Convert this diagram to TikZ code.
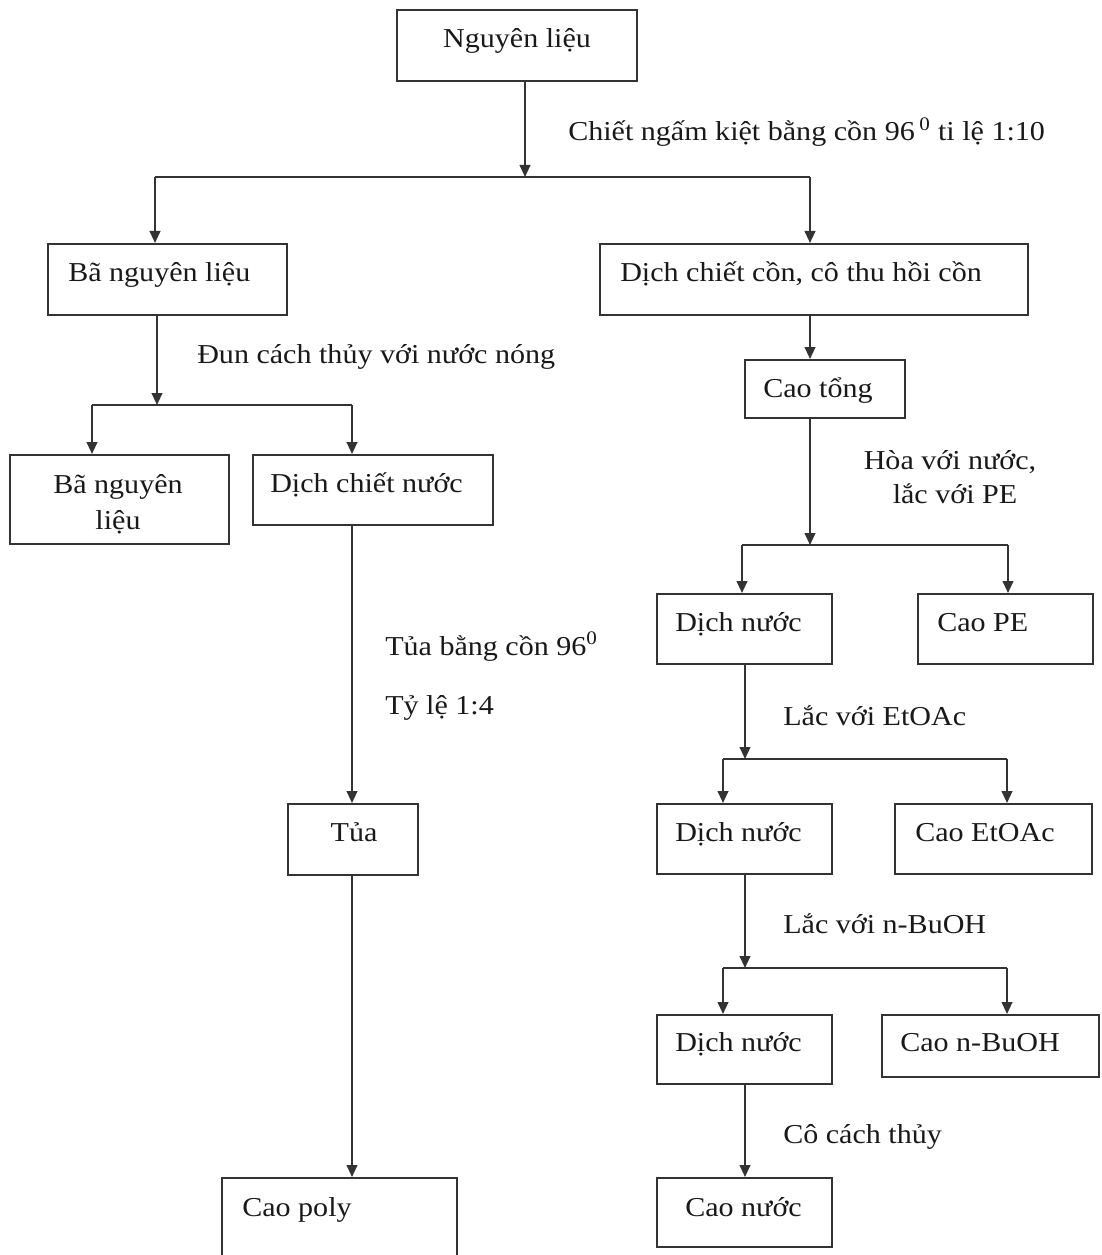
\documentclass[tikz,border=0pt]{standalone}
\usepackage{fontspec}
\setmainfont{Liberation Serif}[FakeStretch=1.1]
\usetikzlibrary{arrows.meta,fit}
\begin{document}
\begin{tikzpicture}[x=0.75pt,y=-0.75pt,
  box/.style={draw=black!80,line width=1.5pt,inner sep=0pt,fit={#1}},
  txt/.style={inner sep=0pt,anchor=base west,font=\fontsize{20.5pt}{27pt}\selectfont,text=black!90},
  ctxt/.style={inner sep=0pt,anchor=base,font=\fontsize{20.5pt}{27pt}\selectfont,text=black!90},
  ln/.style={draw=black!80,line width=1.5pt},
  arr/.style={ln,-{Triangle[length=9pt,width=8pt]}}]
\clip (0,0) rectangle (1101,1255);
\fill[white] (0,0) rectangle (1101,1255);
% boxes
\node[box={(397,10)(637,81)}] (n1) {};
\node[box={(48,244)(287,315)}] (b1) {};
\node[box={(600,244)(1028,315)}] (d1) {};
\node[box={(745,360)(905,418)}] (ct) {};
\node[box={(10,455)(229,544)}] (b2) {};
\node[box={(253,455)(493,525)}] (dn) {};
\node[box={(657,594)(832,664)}] (w1) {};
\node[box={(918,594)(1093,664)}] (pe) {};
\node[box={(657,804)(832,874)}] (w2) {};
\node[box={(895,804)(1092,874)}] (ea) {};
\node[box={(657,1015)(832,1084)}] (w3) {};
\node[box={(882,1015)(1099,1077)}] (bu) {};
\node[box={(288,804)(418,875)}] (tua) {};
\node[box={(222,1178)(457,1270)}] (poly) {};
\node[box={(657,1178)(832,1247)}] (cn) {};
% texts
\node[ctxt] (tn1) at (517,48) {Nguyên liệu};
\node[txt] (l1) at (568,141) {Chiết ngấm kiệt bằng cồn 96\,\textsuperscript{0} ti lệ 1:10};
\node[txt] (tb1) at (68,281) {Bã nguyên liệu};
\node[txt] (td1) at (620,281) {Dịch chiết cồn, cô thu hồi cồn};
\node[txt] (l2) at (197,363) {Đun cách thủy với nước nóng};
\node[txt] (tct) at (763,397) {Cao tổng};
\node[ctxt] (l3a) at (950,469) {Hòa với nước,};
\node[ctxt] (l3b) at (955,503) {lắc với PE};
\node[ctxt] (tb2a) at (118,493) {Bã nguyên};
\node[ctxt] (tb2b) at (118,529) {liệu};
\node[txt] (tdn) at (270,492) {Dịch chiết nước};
\node[txt] (l4a) at (385,655) {Tủa bằng cồn 96\textsuperscript{0}};
\node[txt] (l4b) at (385,714) {Tỷ lệ 1:4};
\node[txt] (tw1) at (675,631) {Dịch nước};
\node[txt] (tpe) at (937,631) {Cao PE};
\node[txt] (l5) at (783,725) {Lắc với EtOAc};
\node[txt] (tw2) at (675,841) {Dịch nước};
\node[txt] (tea) at (915,841) {Cao EtOAc};
\node[ctxt] (ttua) at (354,841) {Tủa};
\node[txt] (l6) at (783,933) {Lắc với n-BuOH};
\node[txt] (tw3) at (675,1051) {Dịch nước};
\node[txt] (tbu) at (900,1051) {Cao n-BuOH};
\node[txt] (l7) at (783,1143) {Cô cách thủy};
\node[txt] (tpoly) at (242,1216) {Cao poly};
\node[txt] (tcn) at (685,1216) {Cao nước};
% junction coordinates
\coordinate (j1) at (525,177);
\coordinate (j1l) at (155,177);
\coordinate (j1r) at (810,177);
\coordinate (j2) at (157,405);
\coordinate (j2l) at (92,405);
\coordinate (j2r) at (352,405);
\coordinate (j3) at (810,545);
\coordinate (j3l) at (742,545);
\coordinate (j3r) at (1008,545);
\coordinate (j4) at (745,759);
\coordinate (j4l) at (723,759);
\coordinate (j4r) at (1007,759);
\coordinate (j5) at (745,968);
\coordinate (j5l) at (723,968);
\coordinate (j5r) at (1007,968);
% connectors
\draw[arr] (j1 |- n1.south) -- (j1);
\draw[ln] (j1l) -- (j1r);
\draw[arr] (j1l) -- (j1l |- b1.north);
\draw[arr] (j1r) -- (j1r |- d1.north);
\draw[arr] (j2 |- b1.south) -- (j2);
\draw[ln] (j2l) -- (j2r);
\draw[arr] (j2l) -- (j2l |- b2.north);
\draw[arr] (j2r) -- (j2r |- dn.north);
\draw[arr] (j1r |- d1.south) -- (j1r |- ct.north);
\draw[arr] (j3 |- ct.south) -- (j3);
\draw[ln] (j3l) -- (j3r);
\draw[arr] (j3l) -- (j3l |- w1.north);
\draw[arr] (j3r) -- (j3r |- pe.north);
\draw[arr] (j4 |- w1.south) -- (j4);
\draw[ln] (j4l) -- (j4r);
\draw[arr] (j4l) -- (j4l |- w2.north);
\draw[arr] (j4r) -- (j4r |- ea.north);
\draw[arr] (j5 |- w2.south) -- (j5);
\draw[ln] (j5l) -- (j5r);
\draw[arr] (j5l) -- (j5l |- w3.north);
\draw[arr] (j5r) -- (j5r |- bu.north);
\draw[arr] (j2r |- dn.south) -- (j2r |- tua.north);
\draw[arr] (j2r |- tua.south) -- (j2r |- poly.north);
\draw[arr] (j5 |- w3.south) -- (j5 |- cn.north);
\end{tikzpicture}
\end{document}
